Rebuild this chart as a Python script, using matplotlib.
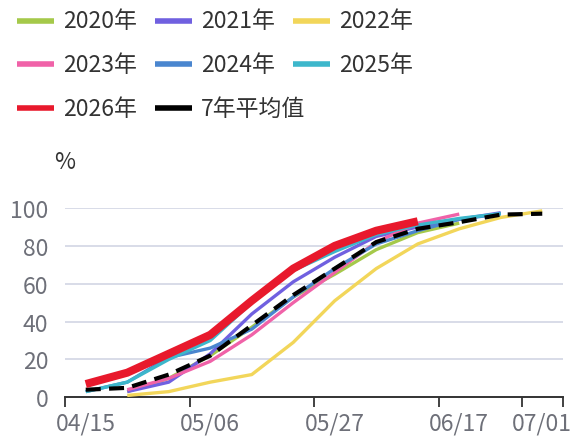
import numpy as np
import matplotlib
matplotlib.use("Agg")
import matplotlib.pyplot as plt
from matplotlib.lines import Line2D

plt.rcParams['font.family'] = ['Noto Sans CJK SC', 'DejaVu Sans']

categories = ['04/15', '04/22', '04/29', '05/06', '05/13', '05/20', '05/27',
              '06/03', '06/10', '06/17', '06/24', '07/01']
shown_labels = ['04/15', '05/06', '05/27', '06/17', '07/01']

nan = np.nan
y2020 = [nan, 3, 10, 22, 37, 53, 65, 78, 87, 92, nan, nan]
y2021 = [nan, 3, 8, 23, 44, 61, 74, 85, 90, 94, 97.5, nan]
y2022 = [nan, 1, 3, 8, 12, 29, 51, 68, 81, 89, 95, 98.5]
y2023 = [nan, 4, 10, 19, 33, 50, 66, 82, 92, 96.8, nan, nan]
y2024 = [3, 8, 21, 26, 36, 53, 68, 81, 88, 94, 97, nan]
y2025 = [3, 8, 20, 30, 50, 67, 77, 86, 91, 94.5, 97, nan]
y2026 = [7, 13, 23, 33, 51, 68, 80, 88, 93, nan, nan, nan]
yavg = [4, 5, 12, 22, 38, 54, 68, 82, 89, 92.5, 96.5, 97]

series = [
    ('2020年', y2020, '#A5C94A', 2.4, '-', 3),
    ('2021年', y2021, '#7060E0', 2.4, '-', 3),
    ('2022年', y2022, '#F2D65A', 2.4, '-', 3),
    ('2023年', y2023, '#F062A8', 2.4, '-', 3),
    ('2024年', y2024, '#4A86CF', 2.4, '-', 3),
    ('2025年', y2025, '#3DB7CB', 2.4, '-', 3),
    ('2026年', y2026, '#E8192C', 5.8, '-', 6),
    ('7年平均值', yavg, '#000000', 3.0, '--', 5),
]

W, H = 573, 439
fig = plt.figure(figsize=(W / 100, H / 100), dpi=100)
ax = fig.add_axes([65 / W, (H - 398.3) / H, 498 / W, 189.3 / H])

x = np.arange(len(categories))
for name, vals, col, lw, ls, z in series:
    v = np.array(vals, dtype=float)
    ln, = ax.plot(x, v, color=col, lw=lw, ls=ls, zorder=z, clip_on=False,
                  solid_capstyle='butt', solid_joinstyle='round')
    if ls == '--':
        ln.set_dashes((3.6, 2.0))

ax.set_xlim(-0.5, len(categories) - 0.5)
ax.set_ylim(0, 100)
ax.set_yticks([0, 20, 40, 60, 80, 100])
ax.grid(axis='y', color='#D6D9E6', lw=1.3, zorder=0)
ax.set_axisbelow(True)

# ticks at category boundaries, labels at category centres
bound = [-0.5, 2.5, 5.5, 8.5, 10.5, 11.5]
ax.set_xticks(bound)
ax.set_xticklabels([])
idx = [categories.index(s) for s in shown_labels]
ax.set_xticks(idx, minor=True)
ax.set_xticklabels(shown_labels, minor=True)
ax.tick_params(axis='x', which='major', length=7, width=1.3, color='#333333')
ax.tick_params(axis='x', which='minor', length=0, pad=10.5, labelsize=16.5,
               labelcolor='#6E7079')
ax.tick_params(axis='y', length=0, pad=12, labelsize=16.5, labelcolor='#6E7079')

for s in ['top', 'right', 'left']:
    ax.spines[s].set_visible(False)
ax.spines['bottom'].set_color('#333333')
ax.spines['bottom'].set_linewidth(1.4)

fig.text(65 / W, 1 - 163 / H, '%', ha='center', va='center', fontsize=16.5,
         color='#333333')

# legend
col_x = [17, 155, 293]
row_y = [21.7, 65, 109.3]
for i, (name, vals, col, lw, ls, z) in enumerate(series):
    r, c = divmod(i, 3)
    xa = col_x[c]
    yy = 1 - row_y[r] / H
    fig.add_artist(Line2D([xa / W, (xa + 37) / W], [yy, yy], color=col, lw=4,
                          solid_capstyle='butt', transform=fig.transFigure))
    fig.text((xa + 46) / W, yy, name, ha='left', va='center', fontsize=16.5,
             color='#333333')

fig.savefig('out.png', dpi=100)
